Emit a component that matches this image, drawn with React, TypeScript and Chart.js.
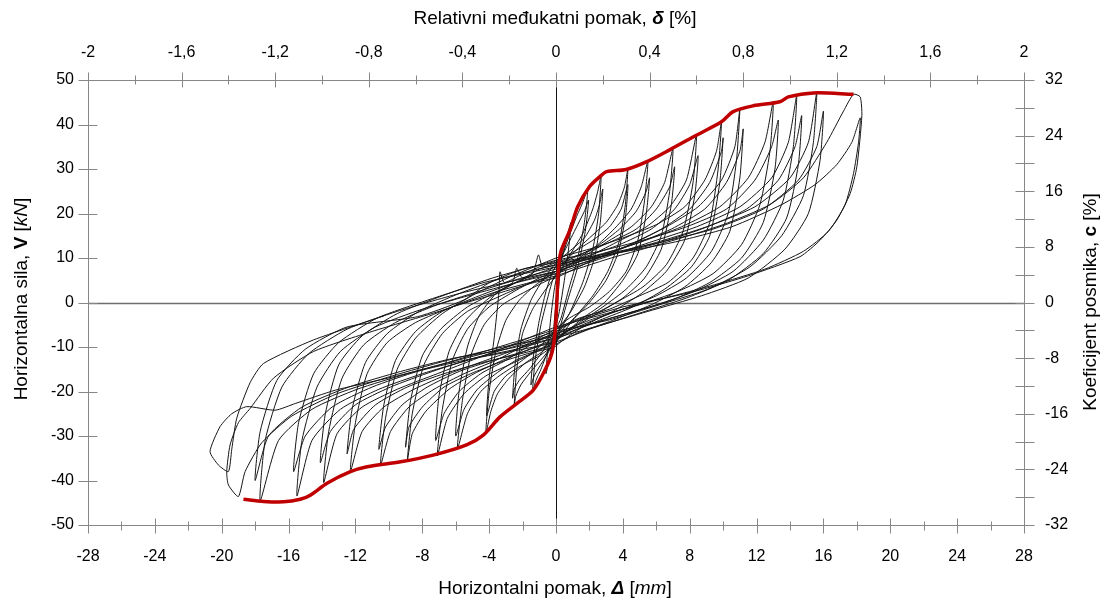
import React, { useEffect, useRef } from 'react';
import { Chart, registerables } from 'chart.js';

Chart.register(...registerables);

const FONT = '"Liberation Sans", Arial, sans-serif';

// Axis ticks
const bottomTicks = [-28, -24, -20, -16, -12, -8, -4, 0, 4, 8, 12, 16, 20, 24, 28];
const topTicks = [-2, -1.6, -1.2, -0.8, -0.4, 0, 0.4, 0.8, 1.2, 1.6, 2];
const leftTicks = [-50, -40, -30, -20, -10, 0, 10, 20, 30, 40, 50];
const rightTicks = [-32, -24, -16, -8, 0, 8, 16, 24, 32];

// Axis titles: [text, font style]
type Seg = [string, string];
const titleBottom: Seg[] = [['Horizontalni pomak, ', ''], ['Δ', 'italic bold '], [' [', ''], ['mm', 'italic '], [']', '']];
const titleTop: Seg[] = [['Relativni međukatni pomak, ', ''], ['δ', 'italic bold '], [' [%]', '']];
const titleLeft: Seg[] = [['Horizontalna sila, ', ''], ['V', 'bold '], [' [', ''], ['kN', 'italic '], [']', '']];
const titleRight: Seg[] = [['Koeficijent posmika, ', ''], ['c', 'bold '], [' [%]', '']];

// Envelope (red), pairs of [displacement mm, force kN]
const envelope = [
  -18.7, -44.2, -17.5, -44.7, -16.3, -44.8, -15.3, -44.2, -14.7, -43.3, -13.7, -40.6, -12.3, -38.0,
  -11.3, -36.9, -9.3, -35.8, -7.35, -34.3, -5.35, -32.0, -4.35, -29.8, -3.35, -25.7, -2.35, -22.7,
  -1.36, -19.7, -0.66, -15.2, -0.25, -11.4, -0.06, -6.9, 0.05, 0, 0.14, 7.3, 0.3, 11.5, 0.84, 16.3,
  1.3, 21.5, 2.0, 26, 2.63, 28.3, 3.03, 29.4, 4.2, 29.9, 5.4, 31.6, 6.8, 34.3, 8.4, 37.6, 9.9, 40.6,
  10.6, 42.9, 11.8, 44.2, 13.4, 45.1, 13.9, 46.2, 15.4, 47.1, 17.8, 46.8,
];

// Hysteresis cycles, pairs of [displacement mm, force kN]
const loop01 = [0, 0, 0.1, 5, 0.2, 8.5, 0.3, 11, 0.22, 6, 0.08, 0, -0.05, -5, -0.15, -8, -0.2, -10, -0.12, -5, 0, 0, 0.1, 4, 0.25, 8.5, 0.3, 10];
const loop02 = [0.3, 10, 0.5, 12.5, 0.7, 15.5, 0.9, 18, 0.75, 12, 0.5, 5, 0.2, -2, -0.1, -7, -0.35, -11.5, -0.6, -16, -0.48, -10, -0.3, -3, -0.1, 3, 0.1, 7];
const loop03a = [0.1, 7, 0.6, 13, 1.2, 19, 1.6, 22.5, 1.9, 25.5, 1.7, 18, 1.3, 10, 0.8, 3.5, 0.3, -3.5, 0, -6, -0.4, -10, -0.9, -15, -1.2, -17.5, -1.4, -20, -1.25, -13, -0.9, -5, -0.5, 1, -0.2, 5, 0.1, 7];
const loop03b = [0.1, 8.5, 0.7, 13, 1.3, 17.5, 1.7, 20.5, 1.95, 23, 1.75, 16, 1.3, 8, 0.7, 0.5, 0.2, -6, -0.1, -8.5, -0.5, -11.5, -1.0, -14.5, -1.3, -16.5, -1.5, -18.5, -1.35, -12, -1.0, -4, -0.6, 2.5, -0.2, 7, 0.1, 8.5];
const loop04a = [0.1, 6, 0.8, 10.5, 1.6, 15.5, 2.2, 21, 2.5, 25, 2.7, 28.5, 2.55, 20, 2.2, 12, 1.6, 4.5, 0.8, -2.5, 0.2, -6.5, -0.1, -9, -0.7, -12, -1.5, -15.5, -2.1, -18.5, -2.4, -21, -2.5, -23, -2.35, -15, -2.0, -7, -1.4, -1.5, -0.7, 2.5, 0, 6];
const loop04b = [0, 9, 0.8, 11.5, 1.7, 14.5, 2.3, 18.5, 2.6, 22, 2.8, 25.5, 2.65, 18, 2.3, 10, 1.7, 3.5, 0.9, -2, 0.2, -5.5, -0.1, -6.5, -0.8, -11, -1.6, -15, -2.2, -17.5, -2.5, -19.5, -2.6, -21.5, -2.45, -14, -2.1, -6, -1.5, 0.5, -0.8, 5, 0, 9];
const loop05a = [0, 7, 1, 11, 2, 14.5, 3, 18, 3.7, 22, 4.1, 26, 4.3, 30, 4.15, 22, 3.8, 14, 3.1, 7, 2.2, 1.5, 1.2, -3, 0.3, -6.5, 0, -8, -0.8, -11, -1.8, -13.5, -2.8, -17, -3.5, -20.5, -3.9, -24.5, -4.2, -29.5, -4.0, -20, -3.6, -11, -3.0, -4, -2.2, 0.5, -1.2, 4, 0, 7];
const loop05b = [0, 9.5, 1.1, 11.5, 2.2, 14, 3.2, 17, 3.9, 21, 4.3, 26.5, 4.15, 19, 3.7, 11, 3.0, 5, 2.0, 0, 1.0, -4, 0.2, -8, -0.1, -9.5, -1, -12, -2, -14, -3, -16.5, -3.7, -20, -4.15, -25.5, -4.0, -17, -3.7, -8, -3.5, -1, -3.4, 3, -3.35, 6.9, -3.1, 4.5, -2.2, 6, -1, 8, 0.1, 9.5];
const loop06a = [0, 6, 1.2, 9.5, 2.5, 13, 3.6, 17, 4.5, 21, 5.1, 26, 5.5, 31.8, 5.3, 23, 4.9, 14, 4.2, 7, 3.2, 2.5, 2.0, -1, 0.8, -3.5, 0, -6, -1, -10, -2.2, -13.5, -3.4, -16.5, -4.5, -20, -5.3, -25, -5.9, -33, -5.6, -22, -5.1, -12, -4.3, -5, -3.2, -0.5, -1.8, 2.5, -0.6, 4.8, 0.1, 6];
const loop06b = [0.1, 8.5, 1.3, 10.5, 2.6, 13, 3.8, 16.5, 4.8, 20.5, 5.4, 25, 5.6, 28, 5.4, 20, 4.9, 11, 4.0, 5, 2.9, 0, 1.6, -3.5, 0.5, -7, -0.1, -8.5, -1.2, -11, -2.4, -13, -3.6, -16, -4.7, -19.5, -5.5, -24, -6.0, -30, -5.8, -20, -5.3, -10, -4.6, -3, -3.6, 2, -2.6, 4.5, -2.35, 7.7, -2.0, 5.5, -1, 7.5, 0.1, 8.5];
const loop07a = [0, 7, 1.5, 10, 3, 13.5, 4.5, 17, 5.7, 21.5, 6.5, 27, 7.0, 34.7, 6.8, 25, 6.3, 15, 5.4, 8, 4.2, 3, 2.8, -1, 1.4, -4.5, 0.3, -7.5, -0.1, -9, -1.4, -11.5, -2.8, -14, -4.2, -16.5, -5.5, -20.5, -6.5, -26, -7.1, -34.5, -6.8, -24, -6.2, -13, -5.3, -6, -4.0, -1, -2.5, 2.5, -1, 5.5, 0, 7];
const loop07b = [0, 9, 1.6, 11, 3.2, 13.5, 4.8, 16.5, 6, 21, 6.8, 26, 7.1, 30.5, 6.9, 22, 6.3, 12, 5.3, 5.5, 4.0, 1, 2.6, -2, 1.2, -4, 0, -6.5, -1.5, -9.5, -3, -13, -4.5, -16, -5.8, -20, -6.7, -25, -7.2, -31, -7.0, -21, -6.4, -11, -5.4, -4, -4.0, 1, -2.4, 4.5, -1.4, 6.5, -1.05, 10.7, -0.8, 8, 0, 9];
const loop08a = [0, 6.5, 1.8, 10, 3.6, 13.5, 5.4, 17, 6.8, 21.5, 7.8, 27.5, 8.4, 37.6, 8.2, 27, 7.6, 16, 6.6, 8.5, 5.2, 3.5, 3.6, 0, 2, -3.5, 0.6, -6.5, 0, -8, -1.6, -10.5, -3.2, -13, -4.9, -16, -6.4, -19.5, -7.8, -24.5, -8.6, -29.5, -8.9, -35.8, -8.6, -25, -7.9, -14, -6.8, -7, -5.3, -2, -3.6, 1, -1.8, 4, 0, 6.5];
const loop08b = [0, 8, 1.9, 10.5, 3.8, 13, 5.7, 16.5, 7.1, 21, 8.0, 26.5, 8.5, 33, 8.3, 24, 7.7, 14, 6.6, 7, 5.1, 2, 3.4, -2, 1.8, -5, 0.4, -8.5, -0.1, -10, -1.7, -11.5, -3.4, -13.5, -5.1, -16, -6.7, -19, -8.0, -23.5, -8.8, -28, -9.0, -32.5, -8.7, -22, -8.0, -12, -6.9, -6, -5.3, -1, -3.5, 2.5, -1.8, 5.5, 0, 8];
const loop09a = [0, 10, 2, 12, 4, 14.5, 6, 17.5, 7.7, 21.5, 8.9, 27.5, 9.6, 34, 9.9, 40.6, 9.7, 30, 9.2, 18, 8.2, 10, 6.7, 4.5, 5, 1.5, 3.2, -1.5, 1.4, -3.5, 0, -6, -1.8, -9.5, -3.6, -13, -5.5, -16, -7.3, -19.5, -8.8, -23.5, -9.9, -29, -10.5, -36.6, -10.2, -26, -9.5, -15, -8.4, -8, -6.8, -2.5, -4.8, 2, -2.6, 6, 0, 10];
const loop09b = [0, 7, 2.1, 9.5, 4.2, 12.5, 6.3, 16.5, 8.0, 21, 9.2, 27, 9.9, 34, 10.0, 37, 9.8, 27, 9.2, 15, 8.1, 8, 6.5, 3, 4.6, -1, 2.6, -4, 1, -6.5, -0.1, -8.5, -1.9, -11, -3.8, -13, -5.8, -15.5, -7.7, -19, -9.2, -23, -10.2, -28, -10.6, -33, -10.3, -23, -9.6, -13, -8.4, -6.5, -6.8, -2, -4.6, 1.5, -2.4, 4.5, 0, 7];
const loop10a = [0, 5.5, 2.2, 9.5, 4.4, 13, 6.6, 17, 8.5, 21.5, 9.9, 27.5, 10.7, 35, 11.0, 43.5, 10.8, 32, 10.3, 20, 9.3, 11.5, 7.8, 5.5, 6, 1.5, 4, -1.5, 2, -4, 0, -7, -2, -10, -4.2, -13, -6.4, -16, -8.5, -19.5, -10.3, -23.5, -11.6, -29, -12.3, -38, -12.0, -27, -11.3, -16, -10.1, -9, -8.4, -4.5, -6.2, -1, -3.5, 2, -1.3, 4.5, 0, 5.5];
const loop10b = [0, 8.5, 2.3, 10.5, 4.6, 13, 6.9, 16.5, 8.9, 21, 10.2, 27, 11, 34, 11.2, 39, 11.0, 28, 10.4, 16, 9.3, 9, 7.7, 3.5, 5.7, -0.5, 3.4, -4, 1.2, -7, -0.1, -9.5, -2.1, -11.5, -4.4, -13.5, -6.7, -16, -8.9, -19, -10.8, -23, -12.1, -28.5, -12.5, -34, -12.2, -24, -11.4, -13.5, -10.1, -7, -8.2, -2, -5.8, 2, -3.2, 5.5, 0, 8.5];
const loop11a = [0, 7.5, 2.5, 10.5, 5, 13.5, 7.5, 17, 9.8, 21.5, 11.5, 28, 12.5, 36, 13.0, 45.2, 12.8, 34, 12.2, 22, 11.1, 13, 9.4, 6.5, 7.3, 2.5, 5, -0.5, 2.5, -3, 0, -5.5, -2.3, -9, -4.7, -12.5, -7.1, -16, -9.5, -19.5, -11.6, -23.5, -13.1, -29.5, -13.9, -40.5, -13.6, -29, -12.8, -17, -11.5, -9.5, -9.6, -4.5, -7.1, -0.5, -4.2, 3, -1.6, 6, 0, 7.5];
const loop11b = [0, 9.5, 2.6, 11.5, 5.2, 14, 7.8, 17, 10.2, 21, 11.9, 27.5, 12.9, 35, 13.3, 41, 13.1, 30, 12.4, 18, 11.1, 10, 9.2, 4.5, 6.9, 0.5, 4.2, -2.5, 1.6, -5.5, -0.1, -8, -2.4, -10.5, -4.9, -12.5, -7.4, -15.5, -9.9, -19, -12, -23, -13.5, -29, -14.1, -36, -13.8, -25, -13.0, -14, -11.6, -7.5, -9.5, -2.5, -6.8, 1.5, -3.8, 5.5, 0, 9.5];
const loop12a = [0, 6.5, 2.8, 10, 5.6, 13.5, 8.4, 17, 11, 21.5, 12.9, 28, 13.9, 36, 14.4, 46.5, 14.2, 35, 13.6, 23, 12.4, 14, 10.6, 7, 8.3, 2.5, 5.6, -1, 2.8, -4, 0, -7, -2.6, -10, -5.3, -13, -8, -16, -10.6, -19.5, -12.9, -24, -14.6, -31, -15.5, -43.5, -15.2, -31, -14.3, -19, -12.9, -11, -10.8, -5.5, -8, -1.5, -4.8, 2, -1.8, 5, 0, 6.5];
const loop12b = [0, 8, 2.9, 10.5, 5.8, 13, 8.7, 16.5, 11.4, 21, 13.3, 27.5, 14.3, 35, 14.7, 42, 14.5, 31, 13.8, 19, 12.4, 11, 10.3, 5, 7.8, 1, 4.9, -2.5, 2, -6, -0.1, -9, -2.7, -11, -5.5, -13, -8.3, -15.5, -11, -19, -13.4, -23.5, -15, -30, -15.7, -38, -15.4, -27, -14.5, -16, -13, -9, -10.7, -3.5, -7.7, 0.5, -4.3, 4.5, 0, 8];
const loop13a = [0, 7, 3, 10.5, 6, 13.5, 9, 17, 11.9, 21.5, 14, 28, 15.1, 36, 15.6, 47.2, 15.4, 36, 14.8, 24, 13.5, 15, 11.6, 8, 9.1, 3, 6.2, -0.5, 3.1, -4, 0, -6.5, -2.9, -10, -5.9, -13, -8.9, -16, -11.9, -19.5, -14.6, -24, -16.6, -31, -17.7, -44.6, -17.4, -31, -16.4, -19, -14.8, -11.5, -12.5, -6, -9.5, -2, -5.8, 2, -2.4, 5, 0, 7];
const loop13b = [0, 9, 3.1, 11, 6.2, 13.5, 9.4, 16.5, 12.4, 21, 14.5, 27.5, 15.6, 35, 16.0, 43, 15.8, 32, 15.1, 20, 13.7, 12, 11.5, 5.5, 8.7, 1.5, 5.5, -2, 2.3, -5.5, -0.1, -8, -3, -10.5, -6.1, -12.5, -9.3, -15.5, -12.4, -19, -15.2, -23.5, -17.2, -30, -18.0, -40, -17.7, -29, -16.7, -17.5, -15, -10.5, -12.5, -5.5, -8.3, -3.2, -5.5, 0.6, -4.05, 4.3, -2, 7.5, 0, 9];
const loop14a = [0, 6, 3.3, 10, 6.6, 13.5, 10, 17.5, 12.8, 22, 14.8, 28, 16.2, 36, 17.2, 43, 17.8, 46.8, 18.2, 46.2, 18.3, 42, 18.0, 30.5, 17.6, 24.5, 16.8, 18.5, 15.8, 14, 14.6, 10.3, 11.5, 6, 8.6, 2.8, 6, 0.5, 3.8, -1.7, 1.4, -5.3, 0, -7.5, -3.2, -10, -6.5, -13, -9.8, -16.5, -13.1, -20.5, -15.8, -25.5, -17.6, -31.5, -18.6, -38, -19.0, -43.6, -19.6, -41, -19.7, -38, -19.5, -32, -19.0, -27, -18.3, -23.8, -16.9, -17, -14.5, -11, -11, -6.5, -7, -2, -3.5, 2.5, 0, 6];
const loop14b = [0, 8.5, 3.5, 11, 7, 13.5, 10.5, 17, 13.5, 22, 15.5, 26.5, 16.8, 31, 17.7, 36, 18.2, 41.5, 18.1, 36, 17.8, 29, 17.3, 22, 16.3, 16, 14.8, 11.5, 12.5, 7.5, 9.5, 4, 6.5, 1, 4, -1, 1.5, -3.8, 0, -6, -3, -9.5, -6.5, -13.5, -9.5, -16.5, -13.2, -19.7, -15.6, -22.7, -16.8, -24.2, -18.5, -23.4, -19.4, -25, -20.1, -27.9, -20.7, -33.5, -20.2, -36.5, -19.6, -38, -19.4, -33, -19.1, -26, -18.3, -18, -17.5, -13.7, -14.5, -8.4, -10.3, -3];

const loops = [loop01, loop02, loop03a, loop03b, loop04a, loop04b, loop05a, loop05b, loop06a, loop06b, loop07a, loop07b,
  loop08a, loop08b, loop09a, loop09b, loop10a, loop10b, loop11a, loop11b, loop12a, loop12b, loop13a, loop13b, loop14a, loop14b];

function toPoints(a: number[]) {
  const r: { x: number; y: number }[] = [];
  for (let i = 0; i + 1 < a.length; i += 2) r.push({ x: a[i], y: a[i + 1] });
  return r;
}

function fmt(v: number) {
  const r = Math.round(v * 10) / 10;
  return String(r === 0 ? 0 : r).replace('.', ',');
}

function drawRich(ctx: CanvasRenderingContext2D, segs: Seg[], cx: number, cy: number, rot: number, size: number) {
  ctx.save();
  ctx.translate(cx, cy);
  ctx.rotate(rot);
  const widths = segs.map((s) => {
    ctx.font = `${s[1]}${size}px ${FONT}`;
    return ctx.measureText(s[0]).width;
  });
  const total = widths.reduce((a, b) => a + b, 0);
  let x = -total / 2;
  ctx.textBaseline = 'middle';
  ctx.textAlign = 'left';
  ctx.fillStyle = '#000';
  segs.forEach((s, i) => {
    ctx.font = `${s[1]}${size}px ${FONT}`;
    ctx.fillText(s[0], x, 0);
    x += widths[i];
  });
  ctx.restore();
}

const FRAME = '#878787';

const decorPlugin = {
  id: 'decor',
  beforeDatasetsDraw(chart: any) {
    const { ctx, chartArea: a, scales } = chart;
    ctx.save();
    const y0 = Math.round(scales.y.getPixelForValue(0)) + 0.5;
    ctx.strokeStyle = '#6e6e6e';
    ctx.lineWidth = 1.6;
    ctx.beginPath();
    ctx.moveTo(a.left, y0);
    ctx.lineTo(a.right, y0);
    ctx.stroke();
    const x0 = Math.round(scales.x.getPixelForValue(0)) + 0.5;
    ctx.strokeStyle = '#111';
    ctx.lineWidth = 1;
    ctx.beginPath();
    ctx.moveTo(x0, a.top);
    ctx.lineTo(x0, a.bottom);
    ctx.stroke();
    ctx.restore();
  },
  afterDraw(chart: any) {
    const { ctx, chartArea: a, scales } = chart;
    ctx.save();
    ctx.strokeStyle = FRAME;
    ctx.lineWidth = 1;
    const L = Math.round(a.left) + 0.5, R = Math.round(a.right) + 0.5;
    const T = Math.round(a.top) + 0.5, B = Math.round(a.bottom) + 0.5;
    ctx.beginPath();
    ctx.moveTo(L, T); ctx.lineTo(R, T); ctx.lineTo(R, B); ctx.lineTo(L, B); ctx.closePath();
    ctx.stroke();
    const hTick = (px: number, yLine: number, inside: number, outside: number, dir: number) => {
      const xx = Math.round(px) + 0.5;
      ctx.beginPath();
      ctx.moveTo(xx, yLine - dir * inside);
      ctx.lineTo(xx, yLine + dir * outside);
      ctx.stroke();
    };
    const vTick = (py: number, xLine: number, inside: number, outside: number, dir: number) => {
      const yy = Math.round(py) + 0.5;
      ctx.beginPath();
      ctx.moveTo(xLine + dir * inside, yy);
      ctx.lineTo(xLine - dir * outside, yy);
      ctx.stroke();
    };
    for (let i = 0; i < bottomTicks.length; i++) {
      hTick(scales.x.getPixelForValue(bottomTicks[i]), B, 7, 8, 1);
      if (i + 1 < bottomTicks.length) hTick(scales.x.getPixelForValue((bottomTicks[i] + bottomTicks[i + 1]) / 2), B, 4, 5, 1);
    }
    for (let i = 0; i < topTicks.length; i++) {
      hTick(scales.x2.getPixelForValue(topTicks[i]), T, 7, 8, -1);
      if (i + 1 < topTicks.length) hTick(scales.x2.getPixelForValue((topTicks[i] + topTicks[i + 1]) / 2), T, 4, 5, -1);
    }
    for (const v of leftTicks) vTick(scales.y.getPixelForValue(v), L, 9, 10, 1);
    for (let i = 0; i < rightTicks.length; i++) {
      vTick(scales.y2.getPixelForValue(rightTicks[i]), R, 9, 10, -1);
      if (i + 1 < rightTicks.length) vTick(scales.y2.getPixelForValue((rightTicks[i] + rightTicks[i + 1]) / 2), R, 9, 10, -1);
    }
    ctx.restore();
    drawRich(ctx, titleTop, 555, 19, 0, 19);
    drawRich(ctx, titleBottom, 555, 589, 0, 19);
    drawRich(ctx, titleLeft, 22, 299, -Math.PI / 2, 19);
    drawRich(ctx, titleRight, 1091, 302, -Math.PI / 2, 19);
  },
};

export default function App() {
  const ref = useRef<HTMLCanvasElement | null>(null);
  useEffect(() => {
    if (!ref.current) return;
    const tickFont = { family: FONT, size: 16 };
    const datasets: any[] = loops.map((l) => ({
      data: toPoints(l),
      showLine: true,
      borderColor: '#151515',
      borderWidth: 1,
      pointRadius: 0,
      tension: 0.2,
      order: 2,
      xAxisID: 'x',
      yAxisID: 'y',
    }));
    datasets.push({
      data: toPoints(envelope),
      showLine: true,
      borderColor: '#c00000',
      borderWidth: 3.5,
      pointRadius: 0,
      tension: 0.3,
      order: 0,
      xAxisID: 'x',
      yAxisID: 'y',
    });
    const common = {
      grid: { display: false, drawTicks: false },
      border: { display: false },
    };
    const chart = new Chart(ref.current, {
      type: 'scatter',
      data: { datasets },
      options: {
        responsive: false,
        animation: false,
        devicePixelRatio: 1,
        events: [],
        layout: { padding: 0 },
        plugins: { legend: { display: false }, tooltip: { enabled: false } },
        scales: {
          x: {
            type: 'linear', position: 'bottom', min: -28, max: 28, ...common,
            afterBuildTicks: (s: any) => { s.ticks = bottomTicks.map((v) => ({ value: v })); },
            afterFit: (s: any) => { s.height = 78; },
            ticks: { font: tickFont, color: '#000', padding: 22, maxRotation: 0, autoSkip: false, callback: (v: any) => fmt(Number(v)) },
          },
          x2: {
            type: 'linear', position: 'top', min: -2, max: 2, ...common,
            afterBuildTicks: (s: any) => { s.ticks = topTicks.map((v) => ({ value: v })); },
            afterFit: (s: any) => { s.height = 80; },
            ticks: { font: tickFont, color: '#000', padding: 18, maxRotation: 0, autoSkip: false, callback: (v: any) => fmt(Number(v)) },
          },
          y: {
            type: 'linear', position: 'left', min: -50, max: 50, ...common,
            afterBuildTicks: (s: any) => { s.ticks = leftTicks.map((v) => ({ value: v })); },
            afterFit: (s: any) => { s.width = 88; },
            ticks: { font: tickFont, color: '#000', padding: 14, autoSkip: false, callback: (v: any) => fmt(Number(v)) },
          },
          y2: {
            type: 'linear', position: 'right', min: -32, max: 32, ...common,
            afterBuildTicks: (s: any) => { s.ticks = rightTicks.map((v) => ({ value: v })); },
            afterFit: (s: any) => { s.width = 82; },
            ticks: { font: tickFont, color: '#000', padding: 21, autoSkip: false, callback: (v: any) => fmt(Number(v)) },
          },
        },
      },
      plugins: [decorPlugin],
    } as any);
    return () => chart.destroy();
  }, []);
  return (
    <canvas
      ref={ref}
      width={1106}
      height={603}
      style={{ position: 'absolute', left: 0, top: 0, width: 1106, height: 603 }}
    />
  );
}
